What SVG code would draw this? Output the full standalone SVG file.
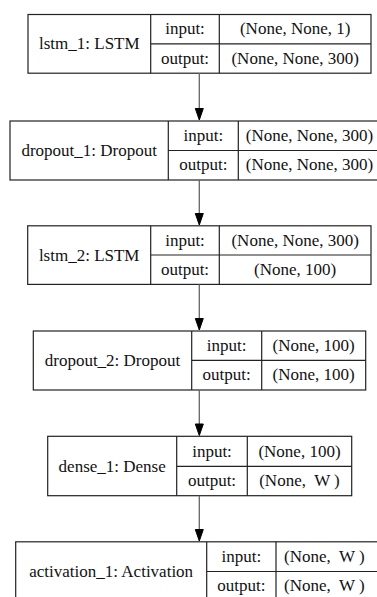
<svg xmlns="http://www.w3.org/2000/svg" width="377" height="597" viewBox="0 0 377 597">
<style>
.box{fill:#fff;stroke:#222;stroke-width:1.2}
.ln{stroke:#222;stroke-width:1.2;fill:none}
.t{font-size:17px;fill:#111;text-anchor:middle;white-space:pre}
.edge{stroke:#666;stroke-width:1.3;fill:none}
.head{fill:#000;stroke:#000;stroke-width:1}
</style>
<rect width="377" height="597" fill="#fff"/>
<g font-family="Liberation Serif, Times New Roman, DejaVu Serif, serif">
<g id="lstm_1">
<rect class="box" x="28" y="14.5" width="343" height="58.7"/>
<path class="ln" d="M150.7 14.5V73.2M219.3 14.5V73.2M150.7 43.8H371"/>
<text class="t" x="89.3" y="49.4">lstm_1: LSTM</text>
<text class="t" x="185" y="34.2">input:</text>
<text class="t" x="185" y="63.6">output:</text>
<text class="t" x="295.2" y="34.2">(None, None, 1)</text>
<text class="t" x="295.2" y="63.6">(None, None, 300)</text>
</g>
<g id="dropout_1">
<rect class="box" x="10" y="121" width="370" height="59"/>
<path class="ln" d="M168.3 121V180M238.3 121V180M168.3 150.5H380"/>
<text class="t" x="89.2" y="156">dropout_1: Dropout</text>
<text class="t" x="203.3" y="140.9">input:</text>
<text class="t" x="203.3" y="170.3">output:</text>
<text class="t" x="309.5" y="140.9">(None, None, 300)</text>
<text class="t" x="309.5" y="170.3">(None, None, 300)</text>
</g>
<g id="lstm_2">
<rect class="box" x="27.7" y="225.8" width="343.3" height="58.6"/>
<path class="ln" d="M150.7 225.8V284.4M219.3 225.8V284.4M150.7 255H371"/>
<text class="t" x="89.2" y="260.6">lstm_2: LSTM</text>
<text class="t" x="185" y="245.5">input:</text>
<text class="t" x="185" y="274.9">output:</text>
<text class="t" x="295.2" y="245.5">(None, None, 300)</text>
<text class="t" x="295.2" y="274.9">(None, 100)</text>
</g>
<g id="dropout_2">
<rect class="box" x="33.3" y="331" width="332.4" height="59"/>
<path class="ln" d="M191.7 331V390M261.7 331V390M191.7 360.3H365.7"/>
<text class="t" x="112.5" y="366">dropout_2: Dropout</text>
<text class="t" x="226.7" y="350.8">input:</text>
<text class="t" x="226.7" y="380.3">output:</text>
<text class="t" x="313.7" y="350.8">(None, 100)</text>
<text class="t" x="313.7" y="380.3">(None, 100)</text>
</g>
<g id="dense_1">
<rect class="box" x="47.7" y="436.3" width="304" height="59.4"/>
<path class="ln" d="M176.7 436.3V495.7M247.3 436.3V495.7M176.7 466.3H351.7"/>
<text class="t" x="112.2" y="471.5">dense_1: Dense</text>
<text class="t" x="212" y="456.5">input:</text>
<text class="t" x="212" y="486.2">output:</text>
<text class="t" x="299.5" y="456.5">(None, 100)</text>
<text class="t" x="299.5" y="486.2">(None,  W )</text>
</g>
<g id="activation_1">
<rect class="box" x="15.7" y="541.8" width="370" height="70"/>
<path class="ln" d="M206.7 541.8V610M276 541.8V610M206.7 571.5H390"/>
<text class="t" x="111.2" y="577">activation_1: Activation</text>
<text class="t" x="241.4" y="561.8">input:</text>
<text class="t" x="241.4" y="591.3">output:</text>
<text class="t" x="324.3" y="561.8">(None,  W )</text>
<text class="t" x="324.3" y="591.3">(None,  W )</text>
</g>
</g>
<g id="connectors">
<path class="edge" d="M199.3 73.2V109"/>
<polygon class="head" points="195.3,108.5 203.3,108.5 199.3,120"/>
<path class="edge" d="M199.3 180V214"/>
<polygon class="head" points="195.3,213.5 203.3,213.5 199.3,225"/>
<path class="edge" d="M199.3 284.4V319"/>
<polygon class="head" points="195.3,318.5 203.3,318.5 199.3,330"/>
<path class="edge" d="M199.3 390V424.5"/>
<polygon class="head" points="195.3,424 203.3,424 199.3,435.5"/>
<path class="edge" d="M199.3 495.7V530"/>
<polygon class="head" points="195.3,529.5 203.3,529.5 199.3,541"/>
</g>
</svg>
